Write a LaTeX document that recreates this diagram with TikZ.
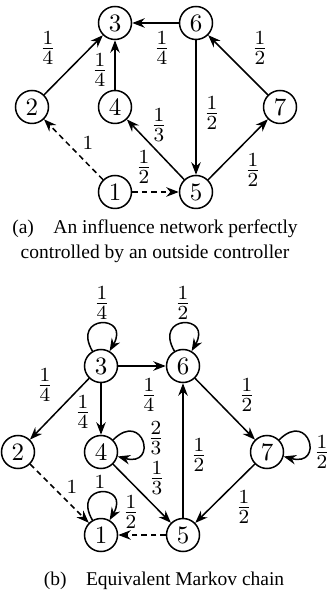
\documentclass[tikz,border=0pt]{standalone}
\usepackage{tikz}
\usetikzlibrary{arrows.meta}
\usepackage{amsmath}
\usepackage{fontspec}
\newfontfamily\capfont{Liberation Serif}

\begin{document}
\begin{tikzpicture}[x=0.4pt,y=-0.4pt,>={Stealth[length=5pt,width=3.8pt]},line width=0.6pt]
	\tikzstyle{vertex}=[circle,draw=black,minimum size=13.2pt,inner sep=0pt]
	\tikzstyle{weight}=[inner sep=0pt,font=\fontsize{11}{13}\selectfont]
	\tikzstyle{link}=[->]
	\tikzstyle{dashlink}=[->,dash pattern=on 2.2pt off 1.6pt]
	\tikzstyle{caption}=[align=center,font=\capfont\fontsize{7.8}{9.8}\selectfont]
	\useasboundingbox (0,0) rectangle (331,590);
	% (a) influence network
	\node[vertex](a1) at (115,192) {1};
	\node[vertex](a2) at (32,107) {2};
	\node[vertex](a3) at (115,23) {3};
	\node[vertex](a4) at (115,107) {4};
	\node[vertex](a5) at (196,192) {5};
	\node[vertex](a6) at (196,23) {6};
	\node[vertex](a7) at (280,107) {7};
	\draw[link](a2) -- (a3);
	\draw[link](a4) -- (a3);
	\draw[link](a6) -- (a3);
	\draw[link](a6) -- (a5);
	\draw[link](a7) -- (a6);
	\draw[link](a5) -- (a4);
	\draw[link](a5) -- (a7);
	\draw[dashlink](a1) -- (a2);
	\draw[dashlink](a1) -- (a5);
	\node[weight](l23) at (48,48) {$\frac{1}{4}$};
	\node[weight](l43) at (100,70) {$\frac{1}{4}$};
	\node[weight](l63) at (162,48) {$\frac{1}{4}$};
	\node[weight](l65) at (212,113) {$\frac{1}{2}$};
	\node[weight](l76) at (260,48) {$\frac{1}{2}$};
	\node[weight](l54) at (159,125) {$\frac{1}{3}$};
	\node[weight](l57) at (253,170) {$\frac{1}{2}$};
	\node[weight](l12) at (88,143) {$\scriptstyle 1$};
	\node[weight](l15) at (144,167) {$\frac{1}{2}$};
	\node[caption](capa) at (155,241) {(a)\quad An influence network perfectly\\controlled by an outside controller};
	% (b) Markov chain
	\node[vertex](b1) at (101,535) {1};
	\node[vertex](b2) at (18,452) {2};
	\node[vertex](b3) at (101,366) {3};
	\node[vertex](b4) at (101,452) {4};
	\node[vertex](b5) at (183,535) {5};
	\node[vertex](b6) at (183,366) {6};
	\node[vertex](b7) at (267,452) {7};
	\draw[link](b3) -- (b2);
	\draw[link](b3) -- (b4);
	\draw[link](b3) -- (b6);
	\draw[link](b6) -- (b7);
	\draw[link](b5) -- (b6);
	\draw[link](b4) -- (b5);
	\draw[link](b7) -- (b5);
	\draw[dashlink](b2) -- (b1);
	\draw[dashlink](b5) -- (b1);
	\draw[link](b3) to[out=120,in=60,looseness=1,min distance=17pt] (b3);
	\draw[link](b6) to[out=120,in=60,looseness=1,min distance=17pt] (b6);
	\draw[link](b1) to[out=120,in=60,looseness=1,min distance=17pt] (b1);
	\draw[link](b4) to[out=45,in=-15,looseness=1,min distance=17pt] (b4);
	\draw[link](b7) to[out=45,in=-15,looseness=1,min distance=17pt] (b7);
	\node[weight](m33) at (102,303) {$\frac{1}{4}$};
	\node[weight](m66) at (183,303) {$\frac{1}{2}$};
	\node[weight](m11) at (100,482) {$\scriptstyle 1$};
	\node[weight](m44) at (156,438) {$\frac{2}{3}$};
	\node[weight](m77) at (322,452) {$\frac{1}{2}$};
	\node[weight](m32) at (45,385) {$\frac{1}{4}$};
	\node[weight](m34) at (83,412) {$\frac{1}{4}$};
	\node[weight](m36) at (149,395) {$\frac{1}{4}$};
	\node[weight](m67) at (247,395) {$\frac{1}{2}$};
	\node[weight](m56) at (199,455) {$\frac{1}{2}$};
	\node[weight](m45) at (157,478) {$\frac{1}{3}$};
	\node[weight](m75) at (244,507) {$\frac{1}{2}$};
	\node[weight](m21) at (72,487) {$\scriptstyle 1$};
	\node[weight](m51) at (131,512) {$\frac{1}{2}$};
	\node[caption](capb) at (164,581) {(b)\quad Equivalent Markov chain};
\end{tikzpicture}
\end{document}
